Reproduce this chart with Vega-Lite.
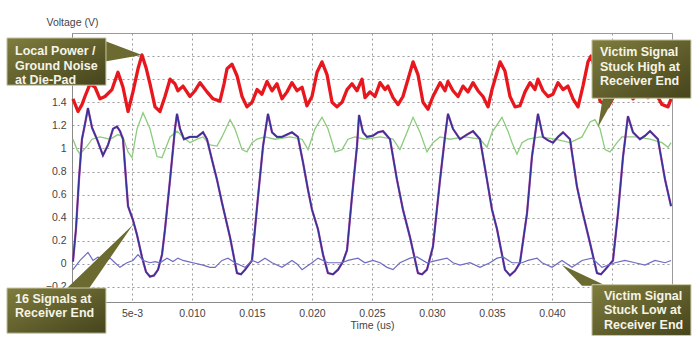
{
  "$schema": "https://vega.github.io/schema/vega-lite/v6.json",
  "width": 600,
  "height": 269,
  "autosize": {"type": "none"},
  "padding": {"left": 72, "top": 33, "right": 28, "bottom": 51},
  "background": "white",
  "config": {
    "view": {"stroke": "#9a9a9a", "strokeWidth": 1},
    "axis": {
      "labelFont": "Liberation Sans",
      "labelFontSize": 10.5,
      "labelColor": "#444",
      "titleFont": "Liberation Sans",
      "titleFontSize": 10.5,
      "titleFontWeight": "normal",
      "titleColor": "#444",
      "ticks": false,
      "domainColor": "#8a8a8a",
      "gridColor": "#9a9a9a",
      "gridDash": [2, 3],
      "gridWidth": 1
    }
  },
  "datasets": {
    "noise": [
      {"t":0.00008,"v":1.43},{"t":0.0005,"v":1.32},{"t":0.00083,"v":1.38},{"t":0.00108,"v":1.45},{"t":0.0015,"v":1.56},{"t":0.00192,"v":1.53},{"t":0.00233,"v":1.43},{"t":0.00275,"v":1.45},{"t":0.00333,"v":1.51},{"t":0.00383,"v":1.66},{"t":0.00425,"v":1.53},{"t":0.00467,"v":1.32},{"t":0.00508,"v":1.49},{"t":0.0055,"v":1.69},{"t":0.00583,"v":1.81},{"t":0.00617,"v":1.70},{"t":0.0065,"v":1.56},{"t":0.00692,"v":1.36},{"t":0.00733,"v":1.32},{"t":0.00775,"v":1.45},{"t":0.00817,"v":1.60},{"t":0.00858,"v":1.56},{"t":0.00883,"v":1.50},{"t":0.00925,"v":1.54},{"t":0.00983,"v":1.45},{"t":0.01025,"v":1.50},{"t":0.01067,"v":1.57},{"t":0.01125,"v":1.49},{"t":0.01175,"v":1.43},{"t":0.01233,"v":1.41},{"t":0.01267,"v":1.56},{"t":0.01292,"v":1.69},{"t":0.01333,"v":1.73},{"t":0.01375,"v":1.63},{"t":0.01417,"v":1.45},{"t":0.01458,"v":1.36},{"t":0.015,"v":1.40},{"t":0.01542,"v":1.51},{"t":0.01583,"v":1.47},{"t":0.01625,"v":1.58},{"t":0.01667,"v":1.50},{"t":0.01708,"v":1.56},{"t":0.0175,"v":1.43},{"t":0.01792,"v":1.49},{"t":0.01833,"v":1.57},{"t":0.01875,"v":1.50},{"t":0.01917,"v":1.53},{"t":0.01958,"v":1.37},{"t":0.02,"v":1.45},{"t":0.02042,"v":1.66},{"t":0.02083,"v":1.75},{"t":0.02125,"v":1.64},{"t":0.02167,"v":1.40},{"t":0.02208,"v":1.36},{"t":0.0225,"v":1.40},{"t":0.02292,"v":1.51},{"t":0.02333,"v":1.56},{"t":0.02375,"v":1.50},{"t":0.02417,"v":1.60},{"t":0.02442,"v":1.44},{"t":0.02483,"v":1.49},{"t":0.02525,"v":1.45},{"t":0.02567,"v":1.57},{"t":0.02608,"v":1.51},{"t":0.02633,"v":1.54},{"t":0.02675,"v":1.44},{"t":0.02717,"v":1.38},{"t":0.02758,"v":1.45},{"t":0.028,"v":1.60},{"t":0.02842,"v":1.75},{"t":0.02883,"v":1.64},{"t":0.02925,"v":1.40},{"t":0.02967,"v":1.34},{"t":0.03008,"v":1.45},{"t":0.03067,"v":1.57},{"t":0.03108,"v":1.50},{"t":0.03133,"v":1.58},{"t":0.03175,"v":1.50},{"t":0.03217,"v":1.45},{"t":0.03258,"v":1.54},{"t":0.033,"v":1.49},{"t":0.03342,"v":1.57},{"t":0.03383,"v":1.50},{"t":0.03425,"v":1.45},{"t":0.03467,"v":1.36},{"t":0.035,"v":1.51},{"t":0.03567,"v":1.75},{"t":0.03608,"v":1.67},{"t":0.0365,"v":1.45},{"t":0.03692,"v":1.36},{"t":0.03733,"v":1.37},{"t":0.03775,"v":1.49},{"t":0.03817,"v":1.57},{"t":0.03858,"v":1.51},{"t":0.03883,"v":1.60},{"t":0.03925,"v":1.50},{"t":0.03967,"v":1.45},{"t":0.04008,"v":1.47},{"t":0.0405,"v":1.57},{"t":0.04092,"v":1.51},{"t":0.04133,"v":1.54},{"t":0.04175,"v":1.43},{"t":0.04217,"v":1.36},{"t":0.04258,"v":1.54},{"t":0.043,"v":1.75},{"t":0.04325,"v":1.80},{"t":0.04358,"v":1.69},{"t":0.044,"v":1.41},{"t":0.04467,"v":1.36},{"t":0.04525,"v":1.47},{"t":0.04567,"v":1.60},{"t":0.04625,"v":1.51},{"t":0.04675,"v":1.43},{"t":0.04733,"v":1.50},{"t":0.048,"v":1.44},{"t":0.04858,"v":1.49},{"t":0.04917,"v":1.38},{"t":0.04967,"v":1.36},{"t":0.04992,"v":1.43}
    ],
    "high": [
      {"t":0.00008,"v":1.08},{"t":0.00042,"v":0.99},{"t":0.00067,"v":0.95},{"t":0.001,"v":0.99},{"t":0.00125,"v":1.02},{"t":0.00167,"v":1.08},{"t":0.00233,"v":1.10},{"t":0.00317,"v":1.08},{"t":0.00383,"v":1.12},{"t":0.00425,"v":1.10},{"t":0.00467,"v":0.97},{"t":0.005,"v":0.92},{"t":0.00542,"v":1.17},{"t":0.00592,"v":1.31},{"t":0.0065,"v":1.17},{"t":0.00708,"v":0.93},{"t":0.0075,"v":0.92},{"t":0.00817,"v":1.10},{"t":0.00875,"v":1.15},{"t":0.00925,"v":1.10},{"t":0.00983,"v":1.05},{"t":0.01042,"v":1.08},{"t":0.01092,"v":1.10},{"t":0.0115,"v":1.03},{"t":0.01208,"v":1.02},{"t":0.0125,"v":1.10},{"t":0.01317,"v":1.25},{"t":0.01358,"v":1.17},{"t":0.01417,"v":0.99},{"t":0.01458,"v":0.97},{"t":0.015,"v":1.05},{"t":0.01542,"v":1.08},{"t":0.01608,"v":1.10},{"t":0.01692,"v":1.08},{"t":0.01817,"v":1.10},{"t":0.01917,"v":1.08},{"t":0.01967,"v":0.99},{"t":0.02025,"v":1.17},{"t":0.02083,"v":1.27},{"t":0.02133,"v":1.17},{"t":0.02192,"v":0.97},{"t":0.0225,"v":0.99},{"t":0.023,"v":1.08},{"t":0.02358,"v":1.10},{"t":0.02442,"v":1.08},{"t":0.02567,"v":1.10},{"t":0.02675,"v":1.08},{"t":0.02733,"v":0.99},{"t":0.02792,"v":1.14},{"t":0.02842,"v":1.27},{"t":0.029,"v":1.14},{"t":0.02958,"v":0.97},{"t":0.03008,"v":1.05},{"t":0.03067,"v":1.10},{"t":0.0315,"v":1.08},{"t":0.03275,"v":1.10},{"t":0.034,"v":1.08},{"t":0.03458,"v":1.01},{"t":0.035,"v":1.14},{"t":0.03583,"v":1.27},{"t":0.03633,"v":1.15},{"t":0.03667,"v":1.05},{"t":0.03708,"v":0.95},{"t":0.0375,"v":1.05},{"t":0.038,"v":1.08},{"t":0.039,"v":1.10},{"t":0.04025,"v":1.08},{"t":0.0415,"v":1.05},{"t":0.0425,"v":1.10},{"t":0.04317,"v":1.23},{"t":0.04358,"v":1.25},{"t":0.044,"v":1.17},{"t":0.04442,"v":0.99},{"t":0.04483,"v":0.97},{"t":0.04542,"v":1.05},{"t":0.04583,"v":1.10},{"t":0.04692,"v":1.10},{"t":0.04817,"v":1.08},{"t":0.04917,"v":1.05},{"t":0.04967,"v":1.01},{"t":0.04992,"v":1.05}
    ],
    "low": [
      {"t":0.00008,"v":-0.05},{"t":0.00067,"v":0.03},{"t":0.00133,"v":0.10},{"t":0.00175,"v":0.03},{"t":0.00217,"v":0.06},{"t":0.00258,"v":0.01},{"t":0.00317,"v":0.05},{"t":0.00358,"v":0.01},{"t":0.004,"v":-0.03},{"t":0.00458,"v":0.01},{"t":0.00508,"v":0.03},{"t":0.0055,"v":0.08},{"t":0.00592,"v":0.03},{"t":0.0065,"v":0.01},{"t":0.00692,"v":0.02},{"t":0.00733,"v":0.01},{"t":0.00792,"v":0.05},{"t":0.00842,"v":0.02},{"t":0.00883,"v":0.05},{"t":0.00925,"v":0.03},{"t":0.00967,"v":0.02},{"t":0.01008,"v":0.01},{"t":0.01092,"v":-0.01},{"t":0.0115,"v":-0.03},{"t":0.01192,"v":-0.03},{"t":0.0125,"v":0.03},{"t":0.013,"v":0.05},{"t":0.01358,"v":0.01},{"t":0.01442,"v":-0.03},{"t":0.015,"v":0.03},{"t":0.0155,"v":0.01},{"t":0.01608,"v":0.05},{"t":0.01667,"v":0.01},{"t":0.0175,"v":-0.03},{"t":0.01833,"v":0.03},{"t":0.01875,"v":0.00},{"t":0.01917,"v":-0.05},{"t":0.02,"v":0.01},{"t":0.0205,"v":0.05},{"t":0.02133,"v":0.01},{"t":0.0225,"v":0.01},{"t":0.023,"v":0.03},{"t":0.02383,"v":0.05},{"t":0.02442,"v":0.01},{"t":0.02508,"v":0.03},{"t":0.02567,"v":0.01},{"t":0.02625,"v":-0.03},{"t":0.02675,"v":-0.05},{"t":0.02733,"v":0.01},{"t":0.02817,"v":0.05},{"t":0.02875,"v":0.06},{"t":0.02958,"v":0.01},{"t":0.03042,"v":0.03},{"t":0.03125,"v":0.05},{"t":0.03175,"v":0.01},{"t":0.03233,"v":-0.01},{"t":0.03317,"v":0.01},{"t":0.034,"v":-0.03},{"t":0.03483,"v":0.01},{"t":0.03542,"v":0.05},{"t":0.03592,"v":0.06},{"t":0.03667,"v":0.01},{"t":0.0375,"v":0.01},{"t":0.038,"v":0.03},{"t":0.03875,"v":0.05},{"t":0.03917,"v":0.01},{"t":0.04,"v":-0.03},{"t":0.04083,"v":0.03},{"t":0.04167,"v":-0.03},{"t":0.0425,"v":0.03},{"t":0.04333,"v":0.05},{"t":0.04417,"v":-0.03},{"t":0.04525,"v":0.01},{"t":0.04608,"v":0.03},{"t":0.04692,"v":0.01},{"t":0.04775,"v":-0.01},{"t":0.04858,"v":0.03},{"t":0.04942,"v":0.01},{"t":0.04992,"v":0.03}
    ],
    "bus": [
      {"t":0.00008,"v":0.02},{"t":0.00033,"v":0.30},{"t":0.00058,"v":0.73},{"t":0.00083,"v":1.08},{"t":0.00108,"v":1.21},{"t":0.00133,"v":1.35},{"t":0.00167,"v":1.18},{"t":0.00208,"v":1.08},{"t":0.00258,"v":0.94},{"t":0.003,"v":1.03},{"t":0.00342,"v":1.17},{"t":0.00375,"v":1.19},{"t":0.004,"v":1.15},{"t":0.00425,"v":1.08},{"t":0.0045,"v":0.73},{"t":0.00467,"v":0.50},{"t":0.00508,"v":0.38},{"t":0.00542,"v":0.25},{"t":0.00583,"v":0.06},{"t":0.00617,"v":-0.07},{"t":0.0065,"v":-0.11},{"t":0.00683,"v":-0.10},{"t":0.00717,"v":-0.05},{"t":0.0075,"v":0.08},{"t":0.00775,"v":0.30},{"t":0.00817,"v":0.73},{"t":0.00858,"v":1.17},{"t":0.00875,"v":1.30},{"t":0.009,"v":1.17},{"t":0.00933,"v":1.08},{"t":0.00983,"v":1.10},{"t":0.01042,"v":1.10},{"t":0.01092,"v":1.14},{"t":0.01125,"v":1.08},{"t":0.01167,"v":0.90},{"t":0.01208,"v":0.73},{"t":0.0125,"v":0.53},{"t":0.01317,"v":0.23},{"t":0.01375,"v":-0.08},{"t":0.01408,"v":-0.09},{"t":0.01442,"v":-0.05},{"t":0.015,"v":0.03},{"t":0.0155,"v":0.58},{"t":0.01592,"v":1.02},{"t":0.01633,"v":1.30},{"t":0.01667,"v":1.14},{"t":0.01708,"v":1.10},{"t":0.0175,"v":1.10},{"t":0.01792,"v":1.12},{"t":0.01833,"v":1.14},{"t":0.01883,"v":1.10},{"t":0.01925,"v":0.88},{"t":0.01967,"v":0.64},{"t":0.02,"v":0.47},{"t":0.0205,"v":0.30},{"t":0.02092,"v":0.08},{"t":0.02133,"v":-0.08},{"t":0.02175,"v":-0.09},{"t":0.02217,"v":-0.05},{"t":0.02258,"v":0.02},{"t":0.02292,"v":0.12},{"t":0.02333,"v":0.58},{"t":0.02375,"v":1.02},{"t":0.02392,"v":1.29},{"t":0.02425,"v":1.14},{"t":0.02458,"v":1.10},{"t":0.02508,"v":1.11},{"t":0.0255,"v":1.14},{"t":0.02592,"v":1.15},{"t":0.0265,"v":1.08},{"t":0.02708,"v":0.73},{"t":0.02758,"v":0.47},{"t":0.02817,"v":0.23},{"t":0.02883,"v":-0.08},{"t":0.02917,"v":-0.09},{"t":0.02958,"v":-0.05},{"t":0.03008,"v":0.15},{"t":0.03067,"v":0.73},{"t":0.03108,"v":1.10},{"t":0.03133,"v":1.30},{"t":0.03175,"v":1.17},{"t":0.03233,"v":1.08},{"t":0.03292,"v":1.12},{"t":0.03342,"v":1.15},{"t":0.034,"v":1.08},{"t":0.03458,"v":0.73},{"t":0.035,"v":0.47},{"t":0.03542,"v":0.30},{"t":0.03608,"v":-0.05},{"t":0.0365,"v":-0.10},{"t":0.03692,"v":-0.06},{"t":0.03733,"v":0.01},{"t":0.03792,"v":0.44},{"t":0.03833,"v":0.93},{"t":0.03883,"v":1.30},{"t":0.03925,"v":1.10},{"t":0.03967,"v":1.07},{"t":0.04008,"v":1.05},{"t":0.0405,"v":1.10},{"t":0.04092,"v":1.14},{"t":0.0415,"v":1.08},{"t":0.04208,"v":0.67},{"t":0.0425,"v":0.47},{"t":0.04317,"v":0.18},{"t":0.04375,"v":-0.08},{"t":0.04408,"v":-0.09},{"t":0.04442,"v":-0.05},{"t":0.04508,"v":0.03},{"t":0.0455,"v":0.44},{"t":0.04592,"v":0.93},{"t":0.04633,"v":1.28},{"t":0.04675,"v":1.14},{"t":0.04733,"v":1.08},{"t":0.04775,"v":1.11},{"t":0.04817,"v":1.15},{"t":0.04883,"v":1.08},{"t":0.04942,"v":0.73},{"t":0.04992,"v":0.50}
    ],
    "boxes": [
      {"t":-0.00542,"t2":0.00283,"v":1.957,"v2":1.548},
      {"t":-0.00542,"t2":0.00283,"v":-0.209,"v2":-0.6},
      {"t":0.04333,"t2":0.05158,"v":1.94,"v2":1.435},
      {"t":0.04333,"t2":0.05158,"v":-0.18,"v2":-0.62}
    ],
    "ptrV": [
      {"p":1,"t":0.00275,"v":1.93,"v2":1.754},
      {"p":1,"t":0.00583,"v":1.809,"v2":1.809},
      {"p":2,"t":-0.00058,"v":-0.226,"v2":-0.226},
      {"p":2,"t":0.00133,"v":-0.226,"v2":-0.035},
      {"p":2,"t":0.00508,"v":0.339,"v2":0.339}
    ],
    "ptrH": [
      {"p":3,"v":1.45,"t":0.04425,"t2":0.04525},
      {"p":3,"v":1.183,"t":0.04383,"t2":0.04383},
      {"p":4,"v":-0.19,"t":0.0425,"t2":0.0445},
      {"p":4,"v":-0.009,"t":0.04083,"t2":0.04083}
    ],
    "labels": [
      {"t":-0.00475,"v":1.843,"label":["Local Power /","Ground Noise","at Die-Pad"]},
      {"t":-0.00475,"v":-0.304,"label":["16 Signals at","Receiver End"]},
      {"t":0.044,"v":1.835,"label":["Victim Signal","Stuck High at","Receiver End"]},
      {"t":0.04433,"v":-0.278,"label":["Victim Signal","Stuck Low at","Receiver End"]}
    ]
  },
  "encoding": {
    "x": {
      "field": "t", "type": "quantitative",
      "scale": {"domain": [0, 0.05], "nice": false, "zero": false},
      "axis": {
        "title": "Time (us)",
        "values": [0, 0.005, 0.01, 0.015, 0.02, 0.025, 0.03, 0.035, 0.04, 0.045, 0.05],
        "labelExpr": "datum.value == 0.005 ? '5e-3' : format(datum.value, '.3f')",
        "labelPadding": 6,
        "titlePadding": 2,
        "grid": true
      }
    },
    "y": {
      "field": "v", "type": "quantitative",
      "scale": {"domain": [-0.33, 2.0], "nice": false, "zero": false},
      "axis": {
        "title": "Voltage (V)",
        "values": [-0.2, 0, 0.2, 0.4, 0.6, 0.8, 1, 1.2, 1.4, 1.6, 1.8],
        "format": "~g",
        "labelPadding": 6,
        "titleAngle": 0,
        "titleAlign": "left",
        "titleBaseline": "middle",
        "titleX": -26,
        "titleY": -11,
        "grid": true
      }
    }
  },
  "layer": [
    {"data": {"name": "noise"}, "mark": {"type": "line", "color": "#e8171d", "strokeWidth": 3.3, "strokeJoin": "round"}},
    {"data": {"name": "high"}, "mark": {"type": "line", "color": "#8ccc7c", "strokeWidth": 1.3}},
    {"data": {"name": "bus"}, "mark": {"type": "line", "color": "#c05aaa", "strokeWidth": 2.3}},
    {"data": {"name": "bus"}, "mark": {"type": "line", "color": "#34349a", "strokeWidth": 1.6}},
    {"data": {"name": "low"}, "mark": {"type": "line", "color": "#6c6cc4", "strokeWidth": 1.2}},
    {"data": {"name": "ptrV"}, "mark": {"type": "area", "orient": "vertical", "color": "#6b6a30"},
     "encoding": {"y2": {"field": "v2"}, "detail": {"field": "p"}}},
    {"data": {"name": "ptrH"}, "mark": {"type": "area", "orient": "horizontal", "color": "#6b6a30"},
     "encoding": {"x2": {"field": "t2"}, "detail": {"field": "p"}}},
    {"data": {"name": "boxes"},
     "mark": {"type": "rect", "stroke": "#c9c9a6", "strokeWidth": 1,
              "fill": {"gradient": "linear", "x1": 0, "y1": 0, "x2": 1, "y2": 1,
                       "stops": [{"offset": 0, "color": "#807d3e"}, {"offset": 1, "color": "#45441c"}]}},
     "encoding": {"x2": {"field": "t2"}, "y2": {"field": "v2"}}},
    {"data": {"name": "labels"},
     "mark": {"type": "text", "align": "left", "baseline": "middle", "font": "Liberation Sans", "fontWeight": "bold", "fontSize": 12.5, "lineHeight": 14.5, "color": "#f6f4e6"},
     "encoding": {"text": {"field": "label"}}}
  ]
}
